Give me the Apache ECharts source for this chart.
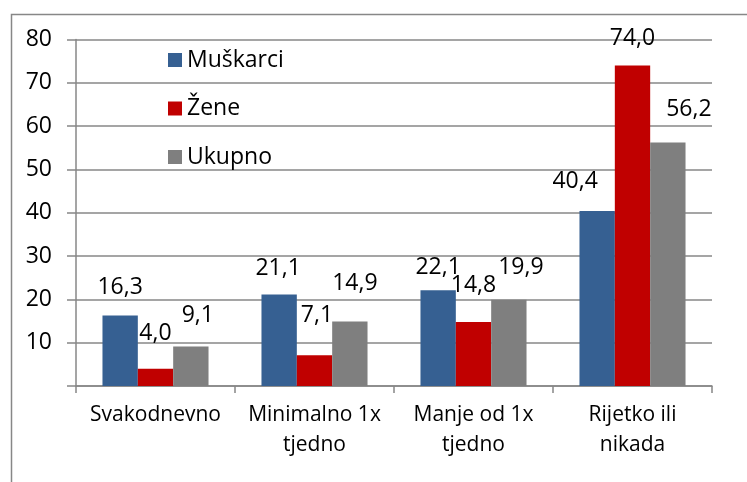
<!DOCTYPE html>
<html>
<head>
<meta charset="utf-8">
<script src="https://cdn.jsdelivr.net/npm/echarts@6/dist/echarts.min.js"></script>
<style>
  html, body { margin: 0; padding: 0; background: #fff; }
  #chart { width: 747px; height: 482px; }
</style>
</head>
<body>
<div id="chart"></div>
<script>
// Categories and series values (percent)
var categories = ['Svakodnevno', 'Minimalno 1x\ntjedno', 'Manje od 1x\ntjedno', 'Rijetko ili\nnikada'];
var seriesNames = ['Muškarci', 'Žene', 'Ukupno'];
var muskarci = [16.3, 21.1, 22.1, 40.4];
var zene = [4.0, 7.1, 14.8, 74.0];
var ukupno = [9.1, 14.9, 19.9, 56.2];

// Styling: colours and hand-placed value-label nudges (dx, dy in px)
var colors = ['#366092', '#C00000', '#7F7F7F'];
var labelNudges = [
  [[0, -16.5], [-1, -14.5], [0, -11], [-22, -18]],
  [[0, -24], [2.5, -28], [0, -25], [0, -15.5]],
  [[7, -20], [5, -27], [12, -21], [21, -22]]
];

var FONT = '"Open Sans", "Noto Sans", sans-serif';
var GRAY = '#878787';

function fmt(v) { return v.toFixed(1).replace('.', ','); }

function buildSeries(name, values, idx) {
  return {
    name: name,
    type: 'bar',
    barGap: '0%',
    barCategoryGap: '33.3%',
    itemStyle: { color: colors[idx] },
    data: values.map(function (v, i) {
      return {
        value: v,
        label: { offset: labelNudges[idx][i] }
      };
    }),
    label: {
      show: true,
      position: 'top',
      distance: 0,
      color: '#000',
      fontFamily: FONT,
      fontSize: 23,
      formatter: function (p) { return fmt(p.value); }
    }
  };
}

var chart = echarts.init(document.getElementById('chart'), null, { renderer: 'canvas' });
chart.setOption({
  animation: false,
  backgroundColor: '#fff',
  graphic: [{
    type: 'rect',
    left: 9, top: 12,
    shape: { width: 800, height: 520 },
    style: { fill: 'none', stroke: GRAY, lineWidth: 1.5 },
    silent: true,
    z: -10
  }],
  grid: { left: 76, top: 39.5, right: 35, bottom: 96, containLabel: false },
  legend: {
    orient: 'vertical',
    left: 163, top: 43.5,
    itemWidth: 14, itemHeight: 14,
    itemGap: 25.5,
    icon: 'rect',
    textStyle: { fontFamily: FONT, fontSize: 23, color: '#000' },
    data: seriesNames
  },
  xAxis: {
    type: 'category',
    data: categories,
    axisLine: { lineStyle: { color: GRAY, width: 1.5 } },
    axisTick: { show: true, length: 7, lineStyle: { color: GRAY, width: 1.5 } },
    axisLabel: {
      fontFamily: FONT, fontSize: 21, color: '#000',
      lineHeight: 30, margin: 14, interval: 0
    }
  },
  yAxis: {
    type: 'value',
    min: 0, max: 80, interval: 10,
    axisLine: { show: true, lineStyle: { color: GRAY, width: 1.5 } },
    axisTick: { show: true, length: 9, lineStyle: { color: GRAY, width: 1.5 } },
    splitLine: { show: true, lineStyle: { color: GRAY, width: 1.5 } },
    axisLabel: {
      fontFamily: FONT, fontSize: 23, color: '#000', margin: 24,
      formatter: function (v) { return v === 0 ? '' : String(v); }
    }
  },
  series: [
    buildSeries(seriesNames[0], muskarci, 0),
    buildSeries(seriesNames[1], zene, 1),
    buildSeries(seriesNames[2], ukupno, 2)
  ]
});
</script>
</body>
</html>
